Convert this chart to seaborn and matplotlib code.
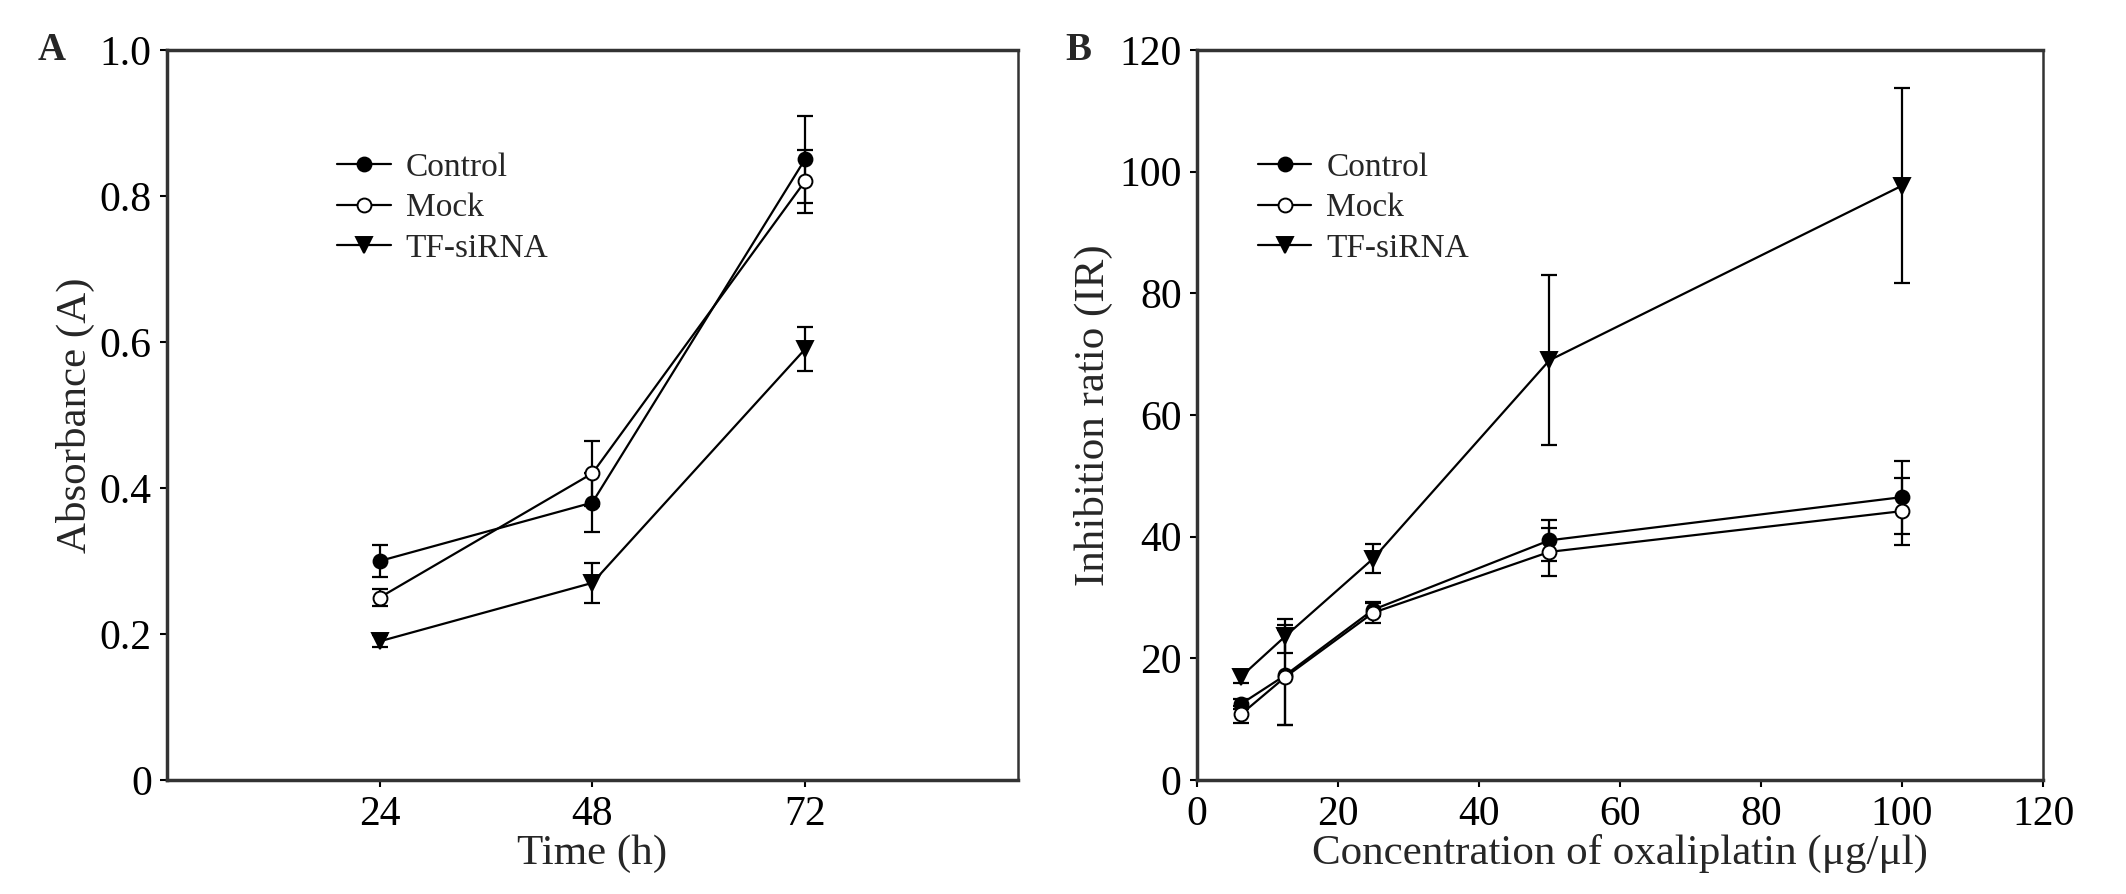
import pandas as pd
import seaborn as sns
import matplotlib.pyplot as plt

# panel A: absorbance over time
time_h = [24, 48, 72]
abs_control = [0.30, 0.38, 0.85]
abs_control_sd = [0.022, 0.04, 0.06]
abs_mock = [0.25, 0.42, 0.82]
abs_mock_sd = [0.012, 0.045, 0.043]
abs_tf = [0.19, 0.27, 0.59]
abs_tf_sd = [0.008, 0.027, 0.03]

# panel B: inhibition ratio vs oxaliplatin
conc = [6.25, 12.5, 25, 50, 100]
ir_control = [12.5, 17.2, 28.0, 39.4, 46.5]
ir_control_sd = [0.8, 8.2, 1.1, 3.4, 6.0]
ir_mock = [10.8, 16.9, 27.5, 37.5, 44.2]
ir_mock_sd = [1.4, 7.8, 1.7, 3.9, 5.5]
ir_tf = [17.0, 23.6, 36.4, 69.0, 97.7]
ir_tf_sd = [1.1, 2.8, 2.4, 14.0, 16.0]

groups = ["Control", "Mock", "TF-siRNA"]
markers = {"Control": "o", "Mock": "o", "TF-siRNA": "v"}
faces = {"Control": "black", "Mock": "white", "TF-siRNA": "black"}

sns.set_style("ticks")
plt.rcParams["font.family"] = ["Liberation Serif", "DejaVu Serif"]

fig = plt.figure(figsize=(21.26, 8.94), dpi=100)
axA = fig.add_axes([0.0786, 0.1275, 0.400, 0.8166])
axB = fig.add_axes([0.563, 0.1275, 0.398, 0.8166])


def draw(ax, x, series):
    for name, (y, sd) in zip(groups, series):
        df = pd.DataFrame({"x": x, "y": y})
        ax.errorbar(x, y, yerr=sd, fmt="none", ecolor="black",
                    elinewidth=1.6, capsize=6, capthick=1.6, zorder=2)
        sns.lineplot(data=df, x="x", y="y", ax=ax, color="black", lw=1.6,
                     marker=markers[name], markersize=11 if name == "TF-siRNA" else 10,
                     markerfacecolor=faces[name], markeredgecolor="black",
                     markeredgewidth=1.4, label=name, zorder=3)


draw(axA, time_h, [(abs_control, abs_control_sd), (abs_mock, abs_mock_sd), (abs_tf, abs_tf_sd)])
draw(axB, conc, [(ir_control, ir_control_sd), (ir_mock, ir_mock_sd), (ir_tf, ir_tf_sd)])

axA.set_xlim(0, 96)
axA.set_ylim(0, 1.0)
axA.set_xticks(time_h)
axA.set_yticks([0, 0.2, 0.4, 0.6, 0.8, 1.0])
axA.set_yticklabels(["0", "0.2", "0.4", "0.6", "0.8", "1.0"])
axA.set_xlabel("Time (h)", fontsize=31)
axA.set_ylabel("Absorbance (A)", fontsize=31)
axA.yaxis.set_label_coords(-0.085, 0.5)

axB.set_xlim(0, 120)
axB.set_ylim(0, 120)
axB.set_xticks(range(0, 121, 20))
axB.set_yticks(range(0, 121, 20))
axB.set_xlabel("Concentration of oxaliplatin (\u03bcg/\u03bcl)", fontsize=31)
axB.set_ylabel("Inhibition ratio (IR)", fontsize=31)
axB.yaxis.set_label_coords(-0.099, 0.5)

for ax, lx in [(axA, 0.20), (axB, 0.072)]:
    ax.xaxis.set_label_coords(0.5, -0.074)
    ax.tick_params(axis="both", direction="out", length=5, width=1.5,
                   labelsize=30, pad=6, colors="black")
    for side, sp in ax.spines.items():
        sp.set_visible(True)
        sp.set_color("#333333")
        sp.set_linewidth(1.8 if side == "right" else 2.5)
    ax.legend(loc="upper left", bbox_to_anchor=(lx, 0.86), frameon=False,
              fontsize=24, handlelength=1.6, handletextpad=0.45,
              labelspacing=0.3, borderpad=0, borderaxespad=0)

fig.text(52 / 2126, 1 - 50 / 894, "A", fontsize=28, fontweight="bold",
         ha="center", va="center")
fig.text(1078 / 2126, 1 - 50 / 894, "B", fontsize=28, fontweight="bold",
         ha="center", va="center")

fig.savefig("out.png", dpi=100)
